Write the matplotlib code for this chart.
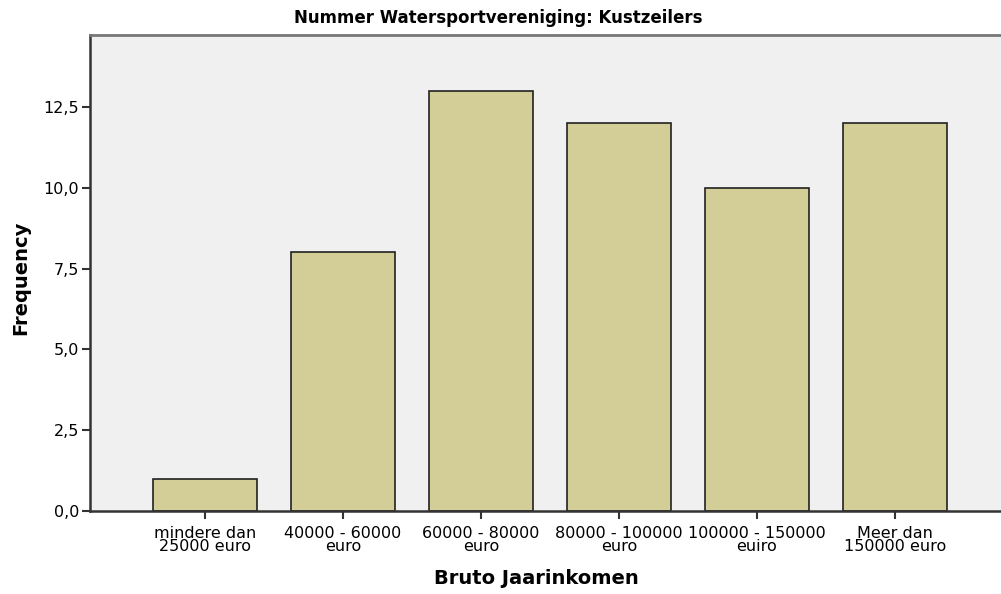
import matplotlib
matplotlib.use('Agg')
import matplotlib.pyplot as plt

# data
categories = ['mindere dan\n25000 euro', '40000 - 60000\neuro', '60000 - 80000\neuro',
              '80000 - 100000\neuro', '100000 - 150000\neuiro', 'Meer dan\n150000 euro']
counts = [1, 8, 13, 12, 10, 12]
yticks = [0, 2.5, 5, 7.5, 10, 12.5]
ytick_labels = ['0,0', '2,5', '5,0', '7,5', '10,0', '12,5']

plt.rcParams['font.family'] = ['DejaVu Sans']

fig = plt.figure(figsize=(10.01, 5.94), dpi=100)
ax = fig.add_axes([90 / 1001, 83 / 594, 1 - 90 / 1001, 476 / 594])
ax.set_facecolor('#f0f0f0')

x = range(len(counts))
ax.bar(x, counts, width=0.755, color='#d3ce97', edgecolor='#222222', linewidth=1.2, zorder=2)

ax.set_xlim(-0.833, 5.77)
ax.set_ylim(0, 14.73)
ax.set_xticks(list(x))
ax.set_xticklabels(categories, fontsize=11.5, linespacing=0.85)
ax.set_yticks(yticks)
ax.set_yticklabels(ytick_labels, fontsize=11.5)
ax.tick_params(axis='both', direction='out', length=6, width=1.5, color='#333333', pad=2)
ax.tick_params(axis='x', pad=5)

for s in ['left', 'bottom']:
    ax.spines[s].set_linewidth(1.8)
    ax.spines[s].set_color('#333333')
ax.spines['top'].set_linewidth(2)
ax.spines['top'].set_color('#777777')
ax.spines['right'].set_visible(False)

ax.set_ylabel('Frequency', fontsize=14, fontweight='bold')
ax.yaxis.set_label_coords(-60 / 911, 0.49)
ax.set_xlabel('Bruto Jaarinkomen', fontsize=14, fontweight='bold')
ax.xaxis.set_label_coords((536 - 90) / 911, -58 / 476)
fig.text(498 / 1001, 1 - 18 / 594, 'Nummer Watersportvereniging: Kustzeilers',
         ha='center', va='center', fontsize=12, fontweight='bold')

fig.savefig('out.png', dpi=100)
